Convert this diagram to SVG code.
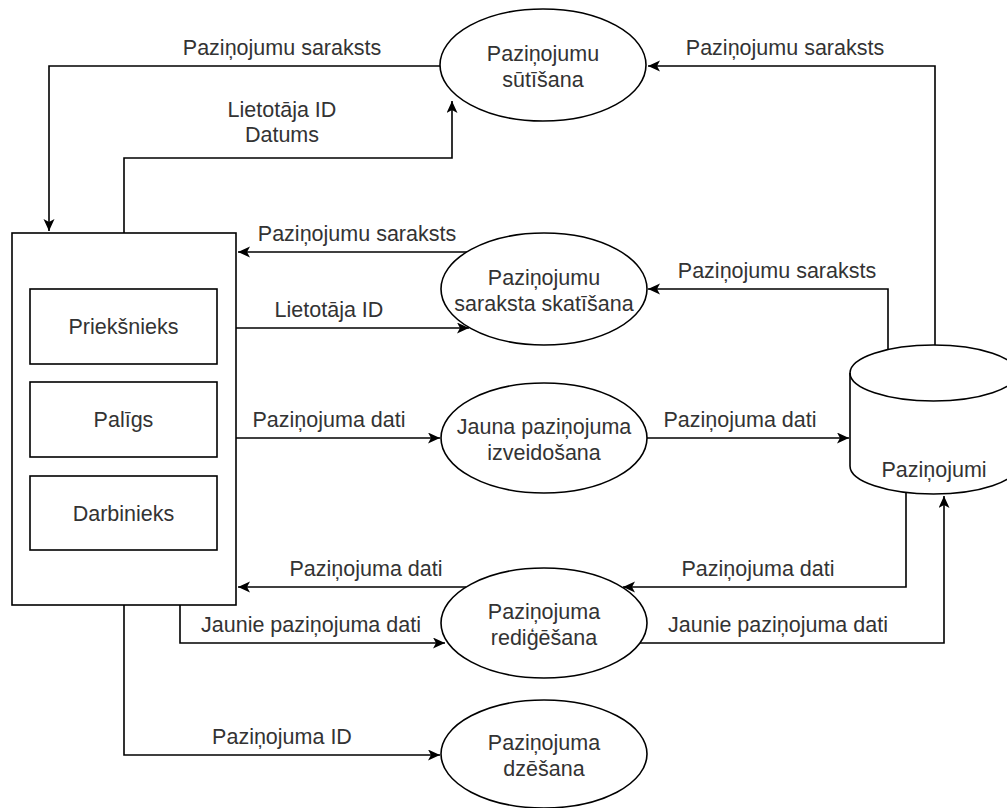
<svg xmlns="http://www.w3.org/2000/svg" width="1007" height="808" viewBox="0 0 1007 808">
<style>
.shape{fill:#fff;stroke:#000;stroke-width:1.6}
.conn{fill:none;stroke:#000;stroke-width:1.6}
text{font-family:"Liberation Sans",Arial,sans-serif;font-size:21.5px;fill:#333;text-anchor:middle}
</style>
<defs>
<marker id="arr" markerUnits="userSpaceOnUse" markerWidth="14" markerHeight="12" refX="12" refY="5.5" orient="auto">
<path d="M0,0 L12,5.5 L0,11 L3,5.5 Z" fill="#000"/>
</marker>
</defs>
<rect width="1007" height="808" fill="#fff"/>
<g id="connectors">
<path class="conn" d="M440,66 H49 V231" marker-end="url(#arr)"/>
<path class="conn" d="M124,233 V158 H452 V101" marker-end="url(#arr)"/>
<path class="conn" d="M935,345 V66 H648" marker-end="url(#arr)"/>
<path class="conn" d="M467,252 H238" marker-end="url(#arr)"/>
<path class="conn" d="M236,328 H469" marker-end="url(#arr)"/>
<path class="conn" d="M888,349 V289 H648" marker-end="url(#arr)"/>
<path class="conn" d="M236,438 H440" marker-end="url(#arr)"/>
<path class="conn" d="M647,438 H849" marker-end="url(#arr)"/>
<path class="conn" d="M906,493 V587 H623" marker-end="url(#arr)"/>
<path class="conn" d="M466,587 H238" marker-end="url(#arr)"/>
<path class="conn" d="M180,605 V643 H445" marker-end="url(#arr)"/>
<path class="conn" d="M640,643 H944 V496" marker-end="url(#arr)"/>
<path class="conn" d="M124,605 V755 H440" marker-end="url(#arr)"/>
<text x="282" y="55">Paziņojumu saraksts</text>
<text x="282" y="117">Lietotāja ID</text>
<text x="282" y="142">Datums</text>
<text x="785" y="55">Paziņojumu saraksts</text>
<text x="357" y="241">Paziņojumu saraksts</text>
<text x="329" y="317">Lietotāja ID</text>
<text x="777" y="278">Paziņojumu saraksts</text>
<text x="329" y="427">Paziņojuma dati</text>
<text x="740" y="427">Paziņojuma dati</text>
<text x="366" y="576">Paziņojuma dati</text>
<text x="758" y="576">Paziņojuma dati</text>
<text x="311" y="632">Jaunie paziņojuma dati</text>
<text x="778" y="632">Jaunie paziņojuma dati</text>
<text x="282" y="744">Paziņojuma ID</text>
</g>
<g id="lietotaji">
<rect class="shape" x="12" y="233" width="224" height="372"/>
</g>
<g id="priekssnieks">
<rect class="shape" x="30" y="289" width="187" height="75"/>
<text x="123.5" y="334">Priekšnieks</text>
</g>
<g id="paligs">
<rect class="shape" x="30" y="382" width="187" height="75"/>
<text x="123.5" y="427">Palīgs</text>
</g>
<g id="darbinieks">
<rect class="shape" x="30" y="476" width="187" height="74"/>
<text x="123.5" y="521">Darbinieks</text>
</g>
<g id="sutisana">
<ellipse class="shape" cx="543" cy="65" rx="103" ry="56"/>
<text x="543" y="61">Paziņojumu</text>
<text x="543" y="87">sūtīšana</text>
</g>
<g id="skatisana">
<ellipse class="shape" cx="544" cy="289" rx="103" ry="56"/>
<text x="544" y="285">Paziņojumu</text>
<text x="544" y="311">saraksta skatīšana</text>
</g>
<g id="izveidosana">
<ellipse class="shape" cx="544" cy="438" rx="103" ry="55"/>
<text x="544" y="434">Jauna paziņojuma</text>
<text x="544" y="460">izveidošana</text>
</g>
<g id="redigesana">
<ellipse class="shape" cx="544" cy="623" rx="103" ry="55"/>
<text x="544" y="619">Paziņojuma</text>
<text x="544" y="645">rediģēšana</text>
</g>
<g id="dzesana">
<ellipse class="shape" cx="544" cy="754" rx="103" ry="54"/>
<text x="544" y="750">Paziņojuma</text>
<text x="544" y="776">dzēšana</text>
</g>
<g id="pazinojumi">
<path class="shape" d="M850,373 A83.5,28 0 0,1 1017,373 V466 A83.5,28 0 0,1 850,466 Z"/>
<path class="conn" d="M850,373 A83.5,28 0 0,0 1017,373"/>
<text x="934" y="477">Paziņojumi</text>
</g>
</svg>
